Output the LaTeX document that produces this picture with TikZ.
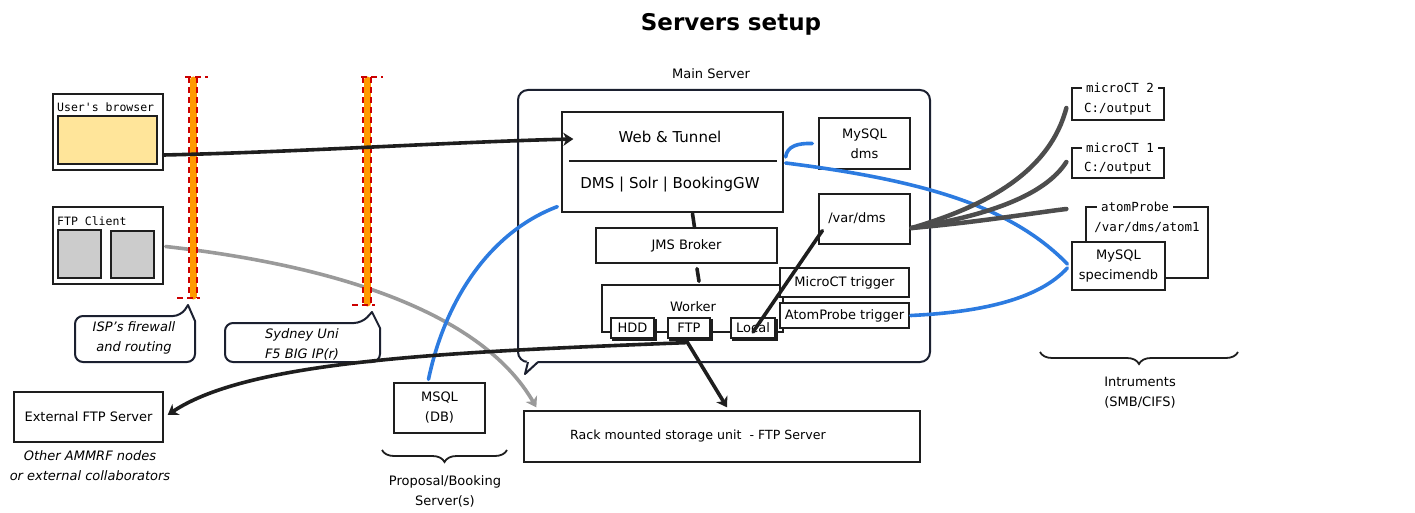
\documentclass[tikz,border=0pt]{standalone}
\usepackage{fontspec}
\setmainfont{DejaVu Sans}
\setmonofont{DejaVu Sans Mono}
\usetikzlibrary{fit,arrows.meta,shadows,decorations.pathreplacing}
\definecolor{navy}{HTML}{1B2030}
\definecolor{bluec}{HTML}{2C7BE0}
\definecolor{fanc}{HTML}{4D4D4D}
\definecolor{greyc}{HTML}{9A9A9A}
\definecolor{orangec}{HTML}{FF9900}
\definecolor{redc}{HTML}{CC0000}
\definecolor{yellowc}{HTML}{FFE59A}
\definecolor{boxgrey}{HTML}{CCCCCC}
\definecolor{ink}{HTML}{1E1E1E}
\begin{document}
\begin{tikzpicture}[x=1pt,y=-1pt,
 box/.style={draw=ink, line width=1.3pt, inner sep=0pt, fill=white, align=center, font=\fontsize{13}{20}\selectfont},
 wh/.style 2 args={minimum width=#1, minimum height=#2},
 txt/.style={inner sep=0pt, align=center, font=\fontsize{13}{20}\selectfont},
 itxt/.style={inner sep=0pt, align=center, font=\itshape\fontsize{13}{20}\selectfont},
 mono/.style={inner sep=1pt, font=\ttfamily\fontsize{11.5}{16}\selectfont},
 imono/.style={inner sep=1pt, font=\ttfamily\fontsize{12.5}{16}\selectfont},
 conn/.style={line width=3.6pt, line cap=round, draw=ink},
 greyline/.style={line width=3.6pt, line cap=round, draw=greyc},
 blueline/.style={line width=3.6pt, line cap=round, draw=bluec},
 fanline/.style={line width=4.5pt, line cap=round, draw=fanc},
 tip/.style={-{Stealth[length=10pt,width=13pt,inset=3pt]}},
 fwline/.style={draw=orangec, line width=7pt, line cap=round},
 fwdash/.style={draw=redc, line width=2pt, dash pattern=on 6pt off 4pt},
 callout/.style={draw=navy, line width=2pt, fill=white, line join=round},
 subbox/.style={box, copy shadow={shadow xshift=2pt, shadow yshift=-2pt}},
 bracestyle/.style={draw=ink, line width=1.8pt, decorate, decoration={brace, amplitude=12pt}},
]
\useasboundingbox (0,0) rectangle (1415,513);

% title
\node[font=\bfseries\fontsize{23}{26}\selectfont] (title) at (731,24) {Servers setup};

% left clients
\node[box, fit={(53,94)(163,170)}] (browser) {};
\node[box, fill=yellowc, fit={(58,116)(157,164)}] (screen) {};
\node[mono, anchor=west] (browsert) at (56,107) {User's browser};
\node[box, fit={(53,207)(163,284)}] (ftpc) {};
\node[box, fill=boxgrey, fit={(58,230)(101,278)}] (pane1) {};
\node[box, fill=boxgrey, fit={(111,231)(154,278)}] (pane2) {};
\node[mono, anchor=west] (ftpct) at (56,221) {FTP Client};

% grey connector (under firewalls)
\node[box, fit={(524,411)(920,462)}] (rack) {};
\node[txt, font=\fontsize{12.6}{16}\selectfont] (rackt) at (698,436) {Rack mounted storage unit \ - FTP Server};
\draw[greyline, tip] ([xshift=2pt,yshift=-1pt]ftpc.east) .. controls (330,265) and (480,310) .. ([xshift=13pt,yshift=3pt]rack.north west);

% firewalls
\draw[fwline] (193,80) -- (193,296);
\draw[fwdash] (189,77) -- (189,298);
\draw[fwdash] (197,77) -- (197,298);
\draw[fwdash] (185,77) -- (208,77);
\draw[fwdash] (177,298) -- (200,298);
\draw[fwline] (367,80) -- (367,303);
\draw[fwdash] (363,77) -- (363,305);
\draw[fwdash] (371,77) -- (371,305);
\draw[fwdash] (361,77) -- (383,77);
\draw[fwdash] (352,305) -- (375,305);

% callouts
\draw[callout] (181,316) -- (188,305) -- (195,321) [rounded corners=8pt] -- (195,362) -- (75,362) -- (75,316) -- cycle;
\node[itxt] (ispt) at (134,338) {ISP's firewall\\and routing};
\draw[callout] (362,323) -- (372,312) -- (380,328) [rounded corners=8pt] -- (380,362) -- (225,362) -- (225,323) -- cycle;
\node[itxt] (f5t) at (302,344) {Sydney Uni\\F5 BIG IP(r)};

% main server
\node[draw=navy, line width=2pt, rounded corners=10pt, fit={(518,90)(930,362)}, inner sep=0pt] (mainsrv) {};
\fill[white] (527,360.5) -- (538.5,360.5) -- (525,374) -- cycle;
\draw[navy, line width=2pt, line join=round] (538,362) -- (525,374) -- (528,362);
\node[txt] (mainsrvt) at (711,74) {Main Server};

\node[box, fit={(562,112)(783,212)}] (web) {};
\draw[ink, line width=1.2pt] (569,161) -- (777,161);
\node[txt, font=\fontsize{15}{18}\selectfont] (webt) at (670,137) {Web \& Tunnel};
\node[txt, font=\fontsize{15}{18}\selectfont] (dmst) at (670,185) {DMS | Solr | BookingGW};

\node[box, wh={91pt}{51pt}] (mysqldms) at (864.5,143.5) {MySQL\\dms};
\node[box, wh={181pt}{35pt}] (jms) at (686.5,245.5) {JMS Broker};
\node[box, fit={(819,194)(910,244)}] (vardms) {};
\node[txt] (vardmst) at (857,218) {/var/dms};

\node[box, fit={(602,285)(783,332)}] (worker) {};
\node[txt] (workert) at (693,307) {Worker};
\node[subbox, wh={43pt}{20pt}] (hdd) at (632.5,328) {HDD};
\node[subbox, wh={42pt}{20pt}] (ftpb) at (689,328) {FTP};
\node[subbox, wh={44pt}{20pt}] (local) at (753,328) {Local};
\node[box, wh={129pt}{29pt}] (microct) at (844.5,282.5) {MicroCT trigger};
\node[box, wh={129pt}{25pt}] (atomtrig) at (844.5,315.5) {AtomProbe trigger};

% bottom
\node[box, wh={91pt}{50pt}] (msql) at (439.5,408) {MSQL\\(DB)};
\draw[bracestyle] (507,450) -- (382,450);
\node[txt] (propt) at (445,491) {Proposal/Booking\\Server(s)};
\node[box, wh={149pt}{50pt}] (extftp) at (88.5,417) {External FTP Server};
\node[itxt] (othert) at (90,466) {Other AMMRF nodes\\or external collaborators};

% instruments
\node[box, fill=none, fit={(1072,88)(1164,120)}] (mct2) {};
\node[imono, fill=white, inner sep=4pt] (mct2t) at (1120,88) {microCT 2};
\node[imono] (mct2p) at (1118,109) {C:/output};
\node[box, fill=none, fit={(1072,148)(1164,178)}] (mct1) {};
\node[imono, fill=white, inner sep=4pt] (mct1t) at (1120,148) {microCT 1};
\node[imono] (mct1p) at (1118,168) {C:/output};
\node[box, fill=none, fit={(1086,207)(1208,278)}] (atomp) {};
\node[imono, fill=white, inner sep=4pt] (atompt) at (1135,207) {atomProbe};
\node[imono] (atompp) at (1147,227) {/var/dms/atom1};
\node[box, wh={93pt}{48pt}] (specdb) at (1118.5,266) {MySQL\\specimendb};
\draw[bracestyle] (1238,352) -- (1040,352);
\node[txt] (instt) at (1140,393) {Intruments\\(SMB/CIFS)};

% connectors
\draw[conn, tip] ([yshift=-23pt]browser.east) .. controls (300,152) and (450,142) .. ([xshift=12pt,yshift=23pt]web.west);
\draw[blueline] ([xshift=-11pt,yshift=3pt]msql.north) .. controls (445,300) and (490,232) .. ([xshift=-4pt,yshift=6pt]web.south west);
\draw[blueline] ([xshift=2pt,yshift=5pt]web.east) .. controls (787,146) and (798,143) .. ([xshift=-6pt]mysqldms.west);
\draw[blueline] ([xshift=2pt,yshift=-1pt]web.east) .. controls (920,180) and (1010,205) .. ([xshift=-4pt,yshift=2pt]specdb.west);
\draw[blueline] ([xshift=1pt]atomtrig.east) .. controls (985,312) and (1040,298) .. ([xshift=-4pt,yshift=-2pt]specdb.west);
\draw[fanline] ([xshift=1pt,yshift=-9pt]vardms.east) .. controls (990,205) and (1050,170) .. ([xshift=-5pt,yshift=-4pt]mct2.west);
\draw[fanline] ([xshift=1pt,yshift=-9pt]vardms.east) .. controls (990,215) and (1045,195) .. ([xshift=-5pt,yshift=1pt]mct1.west);
\draw[fanline] ([xshift=1pt,yshift=-9pt]vardms.east) .. controls (980,222) and (1040,212) .. ([xshift=-19pt,yshift=33.5pt]atomp.west);
\draw[conn] ([xshift=4pt,yshift=14pt]vardms.south west) -- ([yshift=-4pt]local.center);
\draw[conn] ([xshift=20pt,yshift=-1pt]web.south) -- ([xshift=8pt]jms.north);
\draw[conn] ([xshift=10.5pt,yshift=-5pt]jms.south) -- ([xshift=6.5pt,yshift=3pt]worker.north);
\draw[conn, tip] ([xshift=-2pt,yshift=-3pt]ftpb.south) -- ([xshift=5pt,yshift=3pt]rack.north);
\draw[conn, tip] ([xshift=-3pt,yshift=-4pt]ftpb.south) .. controls (450,352) and (250,360) .. ([xshift=4pt,yshift=2pt]extftp.east);
\end{tikzpicture}
\end{document}
